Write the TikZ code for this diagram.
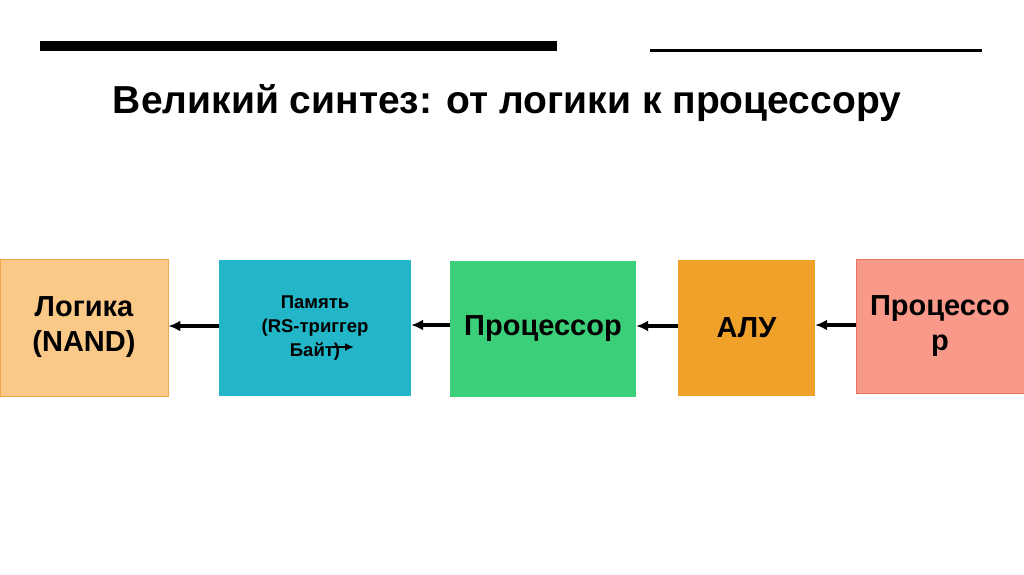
\documentclass[tikz,border=0pt]{standalone}
\usepackage{fontspec}
\setmainfont{Liberation Sans}
\usetikzlibrary{arrows.meta}
\definecolor{cLog}{HTML}{FBC987}
\definecolor{cLogB}{HTML}{F2A94A}
\definecolor{cMem}{HTML}{22B6C8}
\definecolor{cProc}{HTML}{3CCF7A}
\definecolor{cAlu}{HTML}{F0A12A}
\definecolor{cPr}{HTML}{F9998A}
\definecolor{cPrB}{HTML}{E8705E}
\begin{document}
\begin{tikzpicture}[x=1pt,y=-1pt,
  box/.style={draw=none,inner sep=0pt,align=center,font=\bfseries\fontsize{29}{35}\selectfont},
  conn/.style={-{Latex[length=12pt,width=11pt]},line width=4pt}]
\useasboundingbox (0,0) rectangle (1024,574);
\fill[white] (0,0) rectangle (1024,574);
\fill[black] (40,41) rectangle (557,51);
\fill[black] (650,48.5) rectangle (982,51.5);
\node[font=\bfseries\fontsize{39}{44}\selectfont] (title) at (507,103) {Великий синтез: от логики к процессору};
\node[box,fill=cLog,draw=cLogB,line width=0.8pt,minimum width=168pt,minimum height=137pt] (log) at (84,327.5) {Логика\\(NAND)};
\node[box,fill=cMem,minimum width=192pt,minimum height=136pt,font=\bfseries\fontsize{18.5}{24}\selectfont] (mem) at (315,328) {Память\\(RS-триггер\\Байт)};
\node[box,fill=cProc,minimum width=186pt,minimum height=136pt] (proc) at (543,329) {Процессор};
\node[box,fill=cAlu,minimum width=137pt,minimum height=136pt] (alu) at (746.5,328) {АЛУ};
\node[box,fill=cPr,draw=cPrB,line width=0.8pt,minimum width=168pt,minimum height=134pt] (pr) at (940,326) {Процессо\\р};
\draw[conn] (mem.west |- 0,326) -- (log.east |- 0,326);
\draw[conn] (proc.west |- 0,325) -- (mem.east |- 0,325);
\draw[conn] (alu.west |- 0,326) -- (proc.east |- 0,326);
\draw[conn] (pr.west |- 0,325) -- (alu.east |- 0,325);
\coordinate (sa) at (332,347);
\coordinate (sb) at (354,347);
\draw[-{Latex[length=9pt,width=8pt]},line width=2.5pt] (sa) -- (sb);
\end{tikzpicture}
\end{document}
